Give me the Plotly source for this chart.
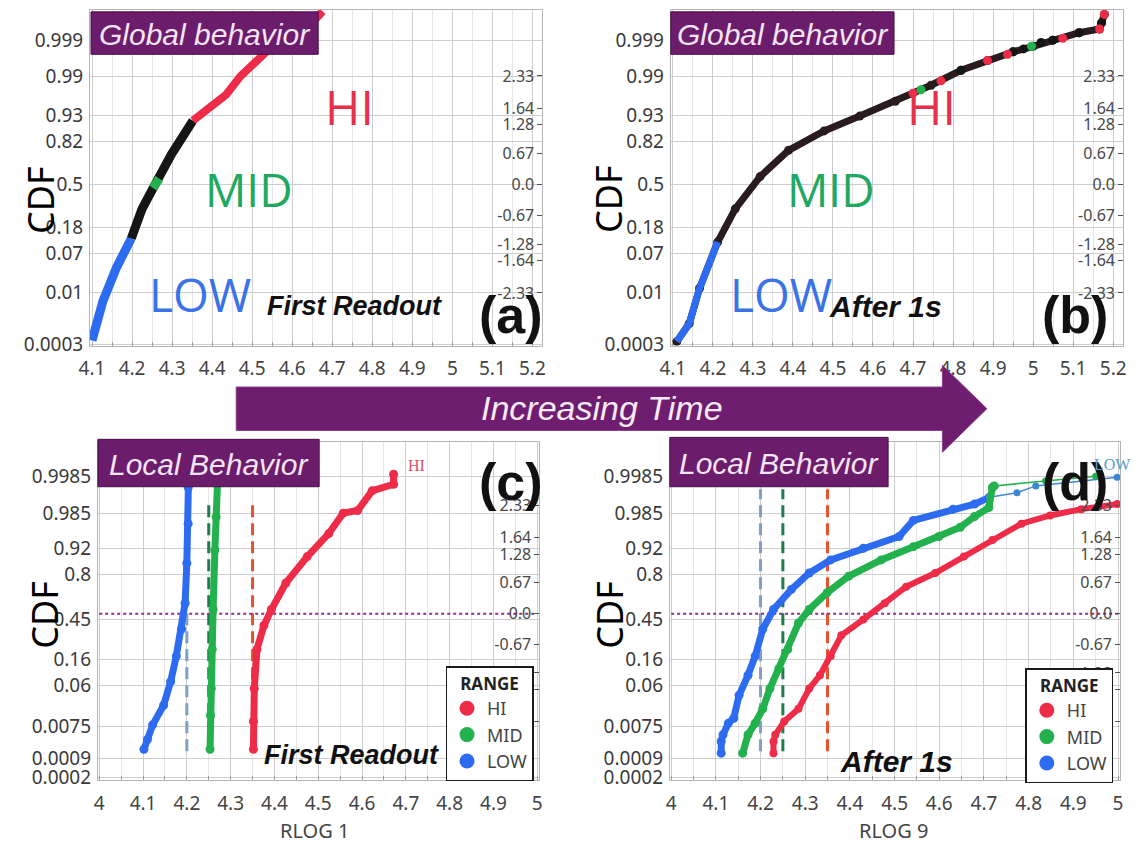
import plotly.graph_objects as go
from statistics import NormalDist

_nd = NormalDist()


def probit(values):
    """Map cumulative probabilities onto the normal-quantile scale."""
    return [_nd.inv_cdf(v) for v in values]


FIG_W, FIG_H = 1142, 865

HI_RED = "#ee2c48"
MID_GREEN = "#22b14c"
LOW_BLUE = "#2d6cf0"
OVERLAP_BLACK = "#151515"
PURPLE = "#6b1c6b"

# ---------------- axis ticks ----------------
global_x_ticks = [4.1, 4.2, 4.3, 4.4, 4.5, 4.6, 4.7, 4.8, 4.9, 5.0, 5.1, 5.2]
global_x_labels = ["4.1", "4.2", "4.3", "4.4", "4.5", "4.6", "4.7", "4.8", "4.9", "5", "5.1", "5.2"]
local_x_ticks = [4.0, 4.1, 4.2, 4.3, 4.4, 4.5, 4.6, 4.7, 4.8, 4.9, 5.0]
local_x_labels = ["4", "4.1", "4.2", "4.3", "4.4", "4.5", "4.6", "4.7", "4.8", "4.9", "5"]
global_cdf_ticks = [0.0003, 0.01, 0.07, 0.18, 0.5, 0.82, 0.93, 0.99, 0.999]
global_cdf_labels = ["0.0003", "0.01", "0.07", "0.18", "0.5", "0.82", "0.93", "0.99", "0.999"]
local_cdf_ticks = [0.0002, 0.0009, 0.0075, 0.06, 0.16, 0.45, 0.8, 0.92, 0.985, 0.9985]
local_cdf_labels = ["0.0002", "0.0009", "0.0075", "0.06", "0.16", "0.45", "0.8", "0.92", "0.985", "0.9985"]
quantile_ticks = [-2.33, -1.64, -1.28, -0.67, 0.0, 0.67, 1.28, 1.64, 2.33]
quantile_labels = ["-2.33", "-1.64", "-1.28", "-0.67", "0.0", "0.67", "1.28", "1.64", "2.33"]

# ---------------- (a) global behaviour, first readout ----------------
a_low_x = [4.100, 4.127, 4.161, 4.198]
a_low_p = [0.0004, 0.006, 0.037, 0.123]
a_overlap_x = [4.198, 4.225, 4.259, 4.298, 4.352]
a_overlap_p = [0.123, 0.30, 0.51, 0.74, 0.915]
a_mid_x = [4.252, 4.268]
a_mid_p = [0.47, 0.55]
a_hi_x = [4.352, 4.400, 4.435, 4.471, 4.524, 4.577, 4.657, 4.676]
a_hi_p = [0.915, 0.955, 0.973, 0.990, 0.9971, 0.99929, 0.9998, 0.9999]

# ---------------- (b) global behaviour, after 1 s ----------------
b_curve_x = [4.110, 4.141, 4.167, 4.212, 4.256, 4.318, 4.389, 4.478, 4.567, 4.656,
             4.745, 4.820, 4.886, 4.950, 5.000, 5.049, 5.115, 5.166, 5.171, 5.178]
b_curve_p = [0.00037, 0.0014, 0.013, 0.108, 0.30, 0.567, 0.768, 0.875, 0.929, 0.963,
             0.9835, 0.9929, 0.9961, 0.9978, 0.9985, 0.99903, 0.99944, 0.99958, 0.99974, 0.99987]
b_low_x = [4.110, 4.141, 4.167, 4.212]
b_low_p = [0.00037, 0.0014, 0.013, 0.108]
b_hi_x = [4.700, 4.770, 4.886, 4.936, 5.074, 5.166, 5.178]
b_hi_p = [0.975, 0.987, 0.9961, 0.9974, 0.99915, 0.99958, 0.99987]
b_mid_x = [4.720, 4.996]
b_mid_p = [0.979, 0.9985]
b_dark_x = [4.820, 4.950, 4.976, 5.020, 5.049, 5.115, 5.171]
b_dark_p = [0.9929, 0.9978, 0.9982, 0.99885, 0.99903, 0.99944, 0.99974]

# ---------------- (c) local behaviour, RLOG 1 ----------------
c_low_x = [4.102, 4.110, 4.122, 4.147, 4.163, 4.176, 4.188, 4.196, 4.200, 4.203, 4.203, 4.204]
c_low_p = [0.0017, 0.0033, 0.0082, 0.024, 0.071, 0.18, 0.37, 0.59, 0.862, 0.974, 0.9968, 0.9985]
c_mid_x = [4.253, 4.254, 4.256, 4.258, 4.260, 4.264, 4.267, 4.270]
c_mid_p = [0.0017, 0.014, 0.053, 0.22, 0.536, 0.915, 0.9816, 0.9975]
c_hi_x = [4.352, 4.352, 4.354, 4.360, 4.376, 4.393, 4.426, 4.475, 4.524, 4.557, 4.590,
          4.623, 4.672, 4.672]
c_hi_p = [0.0017, 0.010, 0.053, 0.22, 0.40, 0.536, 0.746, 0.891, 0.958, 0.985, 0.987,
          0.996, 0.9974, 0.9987]

# ---------------- (d) local behaviour, RLOG 9 ----------------
d_low_x = [4.112, 4.112, 4.116, 4.128, 4.140, 4.152, 4.172, 4.188, 4.205, 4.229, 4.269,
           4.309, 4.357, 4.430, 4.510, 4.542, 4.631, 4.679, 4.712, 4.774, 4.816, 4.998]
d_low_p = [0.0013, 0.0029, 0.0045, 0.0090, 0.012, 0.039, 0.092, 0.18, 0.37, 0.536, 0.70,
           0.81, 0.877, 0.921, 0.952, 0.978, 0.988, 0.991, 0.994, 0.9955, 0.9971, 0.9984]
d_mid_x = [4.160, 4.172, 4.188, 4.205, 4.221, 4.241, 4.261, 4.285, 4.309, 4.349, 4.397,
           4.470, 4.542, 4.599, 4.647, 4.679, 4.711, 4.719, 4.723, 4.838, 4.950]
d_mid_p = [0.0013, 0.0045, 0.0090, 0.020, 0.053, 0.117, 0.22, 0.42, 0.536, 0.674, 0.79,
           0.877, 0.926, 0.952, 0.969, 0.982, 0.989, 0.9968, 0.9971, 0.9979, 0.9985]
d_hi_x = [4.229, 4.229, 4.233, 4.253, 4.285, 4.309, 4.333, 4.357, 4.381, 4.430, 4.478,
          4.526, 4.591, 4.655, 4.719, 4.784, 4.848, 4.918, 4.998]
d_hi_p = [0.0013, 0.0029, 0.0045, 0.0099, 0.020, 0.053, 0.092, 0.18, 0.32, 0.45, 0.59,
          0.72, 0.81, 0.891, 0.944, 0.974, 0.983, 0.988, 0.991]

# reference RLOG levels (dashed) and the median line
ref_levels = [4.20, 4.25, 4.35]
ref_colors = ["#7f9fc8", "#1e7d4c", "#e9502c"]
c_ref_span = [0.0015, 0.993]
d_ref_span = [0.0015, 0.9964]
median_p = [0.5, 0.5]
median_x = [4.0, 5.0]

range_names = ["HI", "MID", "LOW"]
range_colors = [HI_RED, MID_GREEN, LOW_BLUE]

GLOBAL_XR = [4.095, 5.225]
LOCAL_XR = [3.997, 5.005]
GLOBAL_YR = [-3.46, 3.75]
LOCAL_YR = [-3.59, 3.70]


def px(x):
    return x / FIG_W


def py(y):
    return 1 - y / FIG_H


fig = go.Figure()


def line(x, p, color, xa, ya, width=7, size=0, dash=None, mode=None):
    m = mode or ("lines+markers" if size else "lines")
    fig.add_trace(go.Scatter(
        x=x, y=probit(p), mode=m,
        line=dict(color=color, width=width, dash=dash),
        marker=dict(size=size, color=color, line=dict(width=0)),
        xaxis=xa, yaxis=ya, showlegend=False, hoverinfo="skip"))


# (a)
line(a_low_x, a_low_p, LOW_BLUE, "x", "y", width=9)
line(a_overlap_x, a_overlap_p, OVERLAP_BLACK, "x", "y", width=9)
line(a_mid_x, a_mid_p, MID_GREEN, "x", "y", width=9)
line(a_hi_x, a_hi_p, HI_RED, "x", "y", width=8)

# (b)
line(b_curve_x, b_curve_p, "#2a1c1e", "x2", "y2", width=7, size=9)
line(b_low_x, b_low_p, LOW_BLUE, "x2", "y2", width=7)
line(b_dark_x, b_dark_p, OVERLAP_BLACK, "x2", "y2", width=0, size=9, mode="markers")
line(b_hi_x, b_hi_p, HI_RED, "x2", "y2", width=0, size=9, mode="markers")
line(b_mid_x, b_mid_p, MID_GREEN, "x2", "y2", width=0, size=9, mode="markers")

# (c) and (d): reference levels, median line, then the three ranges
for xa, ya, span in (("x3", "y3", c_ref_span), ("x4", "y4", d_ref_span)):
    for lvl, col in zip(ref_levels, ref_colors):
        line([lvl, lvl], span, col, xa, ya, width=3, dash="12px,6px")
    line(median_x, median_p, "#8a2f8a", xa, ya, width=2, dash="dot")

line(c_low_x, c_low_p, LOW_BLUE, "x3", "y3", width=7, size=9)
line(c_mid_x, c_mid_p, MID_GREEN, "x3", "y3", width=7, size=9)
line(c_hi_x, c_hi_p, HI_RED, "x3", "y3", width=7, size=9)

line(d_low_x[:19], d_low_p[:19], LOW_BLUE, "x4", "y4", width=7, size=9)
line(d_low_x[18:], d_low_p[18:], "#3f86d6", "x4", "y4", width=1.5, size=7)
line(d_mid_x[:19], d_mid_p[:19], MID_GREEN, "x4", "y4", width=7, size=9)
line(d_mid_x[18:], d_mid_p[18:], MID_GREEN, "x4", "y4", width=1.5, size=7)
line(d_hi_x, d_hi_p, HI_RED, "x4", "y4", width=6, size=8)

# empty traces so each quantile (right-hand) axis is drawn
for ya, xa in (("y5", "x"), ("y6", "x2"), ("y7", "x3"), ("y8", "x4")):
    fig.add_trace(go.Scatter(x=[], y=[], xaxis=xa, yaxis=ya, showlegend=False,
                             hoverinfo="skip"))

# legend entries
for leg, xa, ya in (("legend", "x3", "y3"), ("legend2", "x4", "y4")):
    for name, col in zip(range_names, range_colors):
        fig.add_trace(go.Scatter(
            x=[None], y=[None], mode="markers", name=name,
            marker=dict(size=15, color=col), legend=leg,
            xaxis=xa, yaxis=ya, hoverinfo="skip"))

TICK_FONT = dict(family="Noto Sans", size=19, color="#3a3a3a")
XTICK_FONT = dict(family="Noto Sans", size=19, color="#444444")


def xaxis(dom, rng, ticks, labels, anchor):
    return dict(domain=dom, range=rng, anchor=anchor, tickmode="array",
                tickvals=ticks, ticktext=labels, tickfont=XTICK_FONT,
                showgrid=True, gridcolor="#cdcdcd", gridwidth=1, zeroline=False,
                showline=True, linecolor="#b5b5b5", linewidth=1, mirror=True,
                ticks="", ticklabelstandoff=6,
                minor=dict(tickmode="linear", tick0=4.0, dtick=0.05, showgrid=True,
                           gridcolor="#e6e6e6", ticks="inside", ticklen=4, tickcolor="#a0a0a0"))


def yaxis(dom, rng, ticks, labels, anchor):
    return dict(domain=dom, range=rng, anchor=anchor, tickmode="array",
                tickvals=probit(ticks), ticktext=labels, tickfont=TICK_FONT,
                showgrid=True, gridcolor="#cdcdcd", gridwidth=1, zeroline=False,
                showline=True, linecolor="#b5b5b5", linewidth=1, mirror=True,
                ticks="", ticklabelstandoff=2)


def zaxis(over, rng, right_edge):
    # normal-quantile scale drawn just inside the right frame: label, then tick
    return dict(overlaying=over, anchor="free", position=right_edge, side="left",
                range=rng, visible=True,
                tickmode="array", tickvals=quantile_ticks, ticktext=quantile_labels,
                ticks="outside", ticklen=5, tickwidth=1, tickcolor="#555555",
                tickfont=dict(family="Noto Sans", size=16, color="#484848"),
                showgrid=False, zeroline=False, showline=False)


dom_a_x = [px(80), px(538)]
dom_b_x = [px(668), px(1126)]
dom_c_x = [px(88), px(535)]
dom_d_x = [px(667), px(1123)]
dom_top_y = [py(350), py(10)]
dom_bot_y = [py(790), py(448)]

layout = dict(
    width=FIG_W, height=FIG_H, autosize=False,
    margin=dict(l=0, r=0, t=0, b=0),
    paper_bgcolor="white", plot_bgcolor="white",
    font=dict(family="Noto Sans"),
    xaxis=xaxis(dom_a_x, GLOBAL_XR, global_x_ticks, global_x_labels, "y"),
    yaxis=yaxis(dom_top_y, GLOBAL_YR, global_cdf_ticks, global_cdf_labels, "x"),
    xaxis2=xaxis(dom_b_x, GLOBAL_XR, global_x_ticks, global_x_labels, "y2"),
    yaxis2=yaxis(dom_top_y, GLOBAL_YR, global_cdf_ticks, global_cdf_labels, "x2"),
    xaxis3=xaxis(dom_c_x, LOCAL_XR, local_x_ticks, local_x_labels, "y3"),
    yaxis3=yaxis(dom_bot_y, LOCAL_YR, local_cdf_ticks, local_cdf_labels, "x3"),
    xaxis4=xaxis(dom_d_x, LOCAL_XR, local_x_ticks, local_x_labels, "y4"),
    yaxis4=yaxis(dom_bot_y, LOCAL_YR, local_cdf_ticks, local_cdf_labels, "x4"),
    yaxis5=zaxis("y", GLOBAL_YR, dom_a_x[1]),
    yaxis6=zaxis("y2", GLOBAL_YR, dom_b_x[1]),
    yaxis7=zaxis("y3", LOCAL_YR, dom_c_x[1]),
    yaxis8=zaxis("y4", LOCAL_YR, dom_d_x[1]),
)

legend_style = dict(xanchor="right", yanchor="top", bgcolor="white",
                    bordercolor="#1a1a1a", borderwidth=1.5,
                    font=dict(family="Noto Sans", size=18, color="#444444"),
                    title=dict(text="<b>RANGE</b>", side="top center",
                               font=dict(family="Noto Sans", size=17, color="#222222")),
                    itemwidth=30, tracegroupgap=0)
layout["legend"] = dict(x=px(529), y=py(675), **legend_style)
layout["legend2"] = dict(x=px(1116), y=py(677), **legend_style)
fig.update_layout(**layout)

shapes = []
annotations = []


def text(x, y, s, size, color, family="Noto Sans", angle=0, xanchor="center"):
    annotations.append(dict(x=px(x), y=py(y), xref="paper", yref="paper", text=s,
                            showarrow=False, xanchor=xanchor, yanchor="middle",
                            textangle=angle, font=dict(family=family, size=size, color=color)))


def label_box(x0, y0, x1, y1, s):
    shapes.append(dict(type="rect", xref="paper", yref="paper",
                       x0=px(x0), x1=px(x1), y0=py(y1), y1=py(y0),
                       fillcolor=PURPLE, line=dict(color="#4a0d4a", width=1), layer="above"))
    text((x0 + x1) / 2, (y0 + y1) / 2 + 1, "<i>%s</i>" % s, 30, "#f4e4f4", "Liberation Sans")


# CDF axis titles
for cx, cy in ((30, 203), (605, 202), (33, 623), (605, 623)):
    text(cx, cy, "CDF", 36, "#000000", angle=-90)

# x axis titles of the local panels
text(307, 841, "RLOG 1", 20, "#444444")
text(893, 841, "RLOG 9", 20, "#444444")

# panel labels and readout tags
BI = "Liberation Sans"
text(506, 319, "<b>(a)</b>", 52, "#111111", BI)
text(1077, 319, "<b>(b)</b>", 52, "#111111", BI)
text(506, 488, "<b>(c)</b>", 52, "#111111", BI)
text(1077, 488, "<b>(d)</b>", 52, "#111111", BI)
text(348, 310, "<b><i>First Readout</i></b>", 27, "#111111", BI)
text(885, 310, "<b><i>After 1s</i></b>", 30, "#111111", BI)
text(345, 765, "<b><i>First Readout</i></b>", 27, "#111111", BI)
text(896, 771, "<b><i>After 1s</i></b>", 30, "#111111", BI)

# range names on the global panels
for ox in (0, 589):
    text(343 + ox, 108, "HI", 48, "#e8304a", "Open Sans")
    text(241 + ox, 191, "MID", 46, "#1fa862", "Open Sans")
    text(191 + ox, 298, "LOW", 46, "#3a72e8", "Open Sans")

text(411, 472, "HI", 16, "#e0506a", "Liberation Serif")
text(1094, 470, "LOW", 16, "#5a9bd0", "Liberation Serif", xanchor="left")

label_box(81, 12, 311, 55, "Global behavior")
label_box(668, 12, 894, 55, "Global behavior")
label_box(88, 445, 312, 493, "Local Behavior")
label_box(667, 443, 888, 493, "Local Behavior")

# time arrow between the rows
arrow_pts = [(228, 392), (943, 392), (943, 370), (988, 414), (943, 458), (943, 436), (228, 436)]
path = "M " + " L ".join("%.5f,%.5f" % (px(x), py(y)) for x, y in arrow_pts) + " Z"
shapes.append(dict(type="path", xref="paper", yref="paper", path=path,
                   fillcolor="#6f1d6e", line=dict(color="#8b3c8b", width=1), layer="above"))
text(598, 413, "<i>Increasing Time</i>", 34, "#f6eaf6", "Liberation Sans")

fig.update_layout(shapes=shapes, annotations=annotations)
fig.write_html("out.html")
